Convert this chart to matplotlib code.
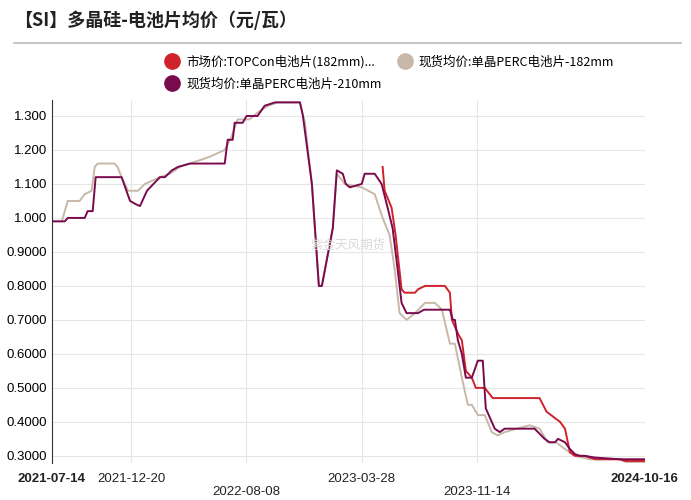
import matplotlib.pyplot as plt
import matplotlib.dates as mdates
from matplotlib.lines import Line2D
import pandas as pd

plt.rcParams['font.family'] = ['Noto Sans CJK SC']

START = pd.Timestamp('2021-07-14')
END = pd.Timestamp('2024-10-16')

# days since 2021-07-14
perc210_days = [0, 26, 32, 66, 72, 82, 88, 140, 157, 169, 177, 191, 217, 227, 241, 253, 277, 347, 353, 363,
                367, 383, 391, 413, 427, 448, 498, 504, 522, 536, 542, 564, 572, 584, 590, 598, 622, 628, 648,
                662, 674, 684, 694, 702, 712, 735, 747, 799, 805, 809, 815, 823, 831, 843, 855, 865, 871, 889,
                899, 909, 969, 989, 999, 1010, 1016, 1030, 1040, 1050, 1060, 1070, 1090, 1140, 1190]
perc210_vals = [0.99, 0.99, 1.00, 1.00, 1.02, 1.02, 1.12, 1.12, 1.05, 1.04, 1.035, 1.08, 1.12, 1.12, 1.14, 1.15,
                1.16, 1.16, 1.23, 1.23, 1.28, 1.28, 1.30, 1.30, 1.33, 1.34, 1.34, 1.30, 1.10, 0.80, 0.80, 0.97,
                1.14, 1.13, 1.10, 1.09, 1.10, 1.13, 1.13, 1.10, 1.03, 0.97, 0.85, 0.75, 0.72, 0.72, 0.73, 0.73,
                0.70, 0.70, 0.64, 0.60, 0.53, 0.53, 0.58, 0.58, 0.44, 0.38, 0.37, 0.38, 0.38, 0.35, 0.34, 0.34,
                0.35, 0.34, 0.32, 0.305, 0.30, 0.30, 0.295, 0.29, 0.29]

perc182_days = [0, 20, 32, 56, 66, 80, 86, 92, 126, 132, 140, 153, 173, 187, 217, 237, 257, 297, 317, 347, 361,
                373, 397, 413, 434, 454, 498, 508, 522, 536, 542, 564, 572, 588, 622, 648, 664, 678, 688, 698,
                712, 729, 749, 769, 783, 799, 809, 823, 835, 843, 855, 869, 883, 895, 909, 959, 979, 995, 1012,
                1030, 1050, 1080, 1140, 1156, 1190]
perc182_vals = [0.99, 0.99, 1.05, 1.05, 1.07, 1.08, 1.15, 1.16, 1.16, 1.15, 1.12, 1.08, 1.08, 1.10, 1.12, 1.13,
                1.15, 1.17, 1.18, 1.20, 1.24, 1.29, 1.29, 1.31, 1.33, 1.34, 1.34, 1.28, 1.10, 0.80, 0.80, 0.97,
                1.13, 1.10, 1.09, 1.07, 1.00, 0.95, 0.85, 0.72, 0.70, 0.72, 0.75, 0.75, 0.73, 0.63, 0.63, 0.53,
                0.45, 0.45, 0.42, 0.42, 0.37, 0.36, 0.37, 0.39, 0.38, 0.34, 0.34, 0.32, 0.30, 0.29, 0.29, 0.28, 0.28]

topcon_days = [664, 668, 682, 690, 702, 708, 729, 735, 749, 789, 799, 803, 815, 823, 831, 843, 851, 869, 885,
               979, 993, 1020, 1030, 1040, 1050, 1070, 1090, 1140, 1150, 1190]
topcon_vals = [1.15, 1.08, 1.03, 0.95, 0.79, 0.78, 0.78, 0.79, 0.80, 0.80, 0.78, 0.70, 0.66, 0.64, 0.55, 0.53,
               0.50, 0.50, 0.47, 0.47, 0.43, 0.40, 0.38, 0.31, 0.30, 0.30, 0.29, 0.29, 0.285, 0.285]

yticks = [0.3, 0.4, 0.5, 0.6, 0.7, 0.8, 0.9, 1.0, 1.1, 1.2, 1.3]
ytick_labels = ['0.3000', '0.4000', '0.5000', '0.6000', '0.7000', '0.8000', '0.9000',
                '1.000', '1.100', '1.200', '1.300']
xtick_dates = ['2021-07-14', '2021-12-20', '2022-08-08', '2023-03-28', '2023-11-14', '2024-10-16']

series = [
    ('市场价:TOPCon电池片(182mm)...', topcon_days, topcon_vals, '#d0222a'),
    ('现货均价:单晶PERC电池片-182mm', perc182_days, perc182_vals, '#c8b8a8'),
    ('现货均价:单晶PERC电池片-210mm', perc210_days, perc210_vals, '#7a0a4e'),
]

fig = plt.figure(figsize=(6.91, 5), dpi=100)
ax = fig.add_axes([0.075, 0.074, 0.858, 0.726])

# draw gray first so others sit on top
for idx in [1, 0, 2]:
    name, days, vals, color = series[idx]
    dates = START + pd.to_timedelta(days, unit='D')
    ax.plot(dates, vals, color=color, lw=1.4)

ax.set_xlim(START, END)
ax.set_ylim(0.279, 1.347)
ax.set_yticks(yticks)
ax.set_yticklabels(ytick_labels, fontsize=9.5, family='Liberation Sans')
ax.grid(axis='y', color='#e6e6e6', lw=0.8)
ax.set_xticks([pd.Timestamp(d) for d in xtick_dates[1:-1]])
ax.set_xticklabels([])
ax.grid(axis='x', color='#e6e6e6', lw=0.8)
ax.tick_params(length=0)
for s in ['top', 'right', 'bottom']:
    ax.spines[s].set_visible(False)
ax.spines['left'].set_color('#333333')

# staggered date labels
for i, d in enumerate(xtick_dates):
    x = mdates.date2num(pd.Timestamp(d))
    low = i in (2, 4)
    bold = i in (0, len(xtick_dates) - 1)
    ax.text(x, -0.045 if not low else -0.08, d, transform=ax.get_xaxis_transform(),
            ha='center', va='center', fontsize=9.5, family='Liberation Sans',
            fontweight='bold' if bold else 'normal', color='#222222')

ax.text(0.5, 0.6, '紫金天风期货', transform=ax.transAxes, ha='center', va='center',
        fontsize=9, color='#d8d8d8')

fig.text(0.02, 0.96, '【SI】多晶硅-电池片均价（元/瓦）', fontsize=13, fontweight='bold',
         va='center', color='#222222')
fig.add_artist(Line2D([0.02, 0.985], [0.914, 0.914], color='#bbbbbb', lw=1.2))

handles = [Line2D([], [], marker='o', ls='', color=c, markersize=11) for _, _, _, c in series]
labels = [n for n, _, _, _ in series]
fig.legend(handles[:2], labels[:2], loc='center left', bbox_to_anchor=(0.215, 0.876), ncol=2,
           frameon=False, fontsize=9, handletextpad=0.1, columnspacing=1.4)
fig.legend(handles[2:], labels[2:], loc='center left', bbox_to_anchor=(0.215, 0.832),
           frameon=False, fontsize=9, handletextpad=0.1)

fig.savefig('out.png', dpi=100)
